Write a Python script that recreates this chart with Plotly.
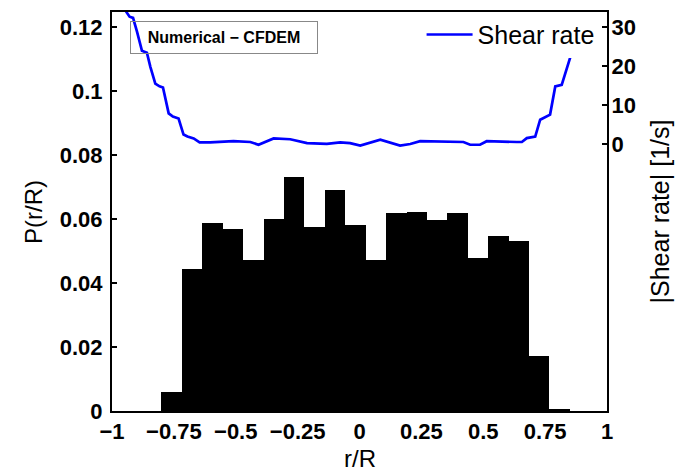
import plotly.graph_objects as go

# Histogram of radial particle positions (bin centres, bin width, probability)
bin_centers = [-0.7588, -0.6763, -0.5938, -0.5113, -0.4288, -0.3463, -0.2638, -0.1813,
               -0.0988, -0.0163, 0.0663, 0.1488, 0.2313, 0.3138, 0.3963, 0.4788,
               0.5613, 0.6438, 0.7263, 0.8088]
bin_width = 0.0825
prob = [0.0060, 0.0444, 0.0587, 0.0568, 0.0472, 0.0601, 0.0731, 0.0576,
        0.0692, 0.0581, 0.0472, 0.0620, 0.0622, 0.0597, 0.0618, 0.0478,
        0.0548, 0.0531, 0.0171, 0.0007]

# Shear rate profile
shear_r = [-0.955, -0.942, -0.929, -0.915, -0.899, -0.879, -0.859, -0.845, -0.825, -0.808,
           -0.794, -0.785, -0.771, -0.754, -0.731, -0.711, -0.695, -0.670, -0.646, -0.603,
           -0.550, -0.509, -0.441, -0.408, -0.347, -0.280, -0.212, -0.132, -0.078, -0.038,
           0.003, 0.084, 0.164, 0.205, 0.245, 0.330, 0.420, 0.447, 0.487, 0.514,
           0.580, 0.636, 0.656, 0.676, 0.710, 0.730, 0.770, 0.791, 0.817, 0.851,
           0.875, 0.900, 0.916, 0.932, 0.950]
shear_rate = [36.5, 33.8, 32.6, 32.3, 28.8, 23.9, 23.4, 19.8, 15.5, 14.8,
              14.5, 11.7, 7.9, 7.1, 6.6, 2.5, 2.0, 1.5, 0.5, 0.5,
              0.6, 0.8, 0.6, -0.1, 1.5, 1.3, 0.3, 0.1, 0.5, 0.3,
              -0.3, 1.2, -0.3, 0.1, 0.8, 0.7, 0.6, -0.1, -0.1, 0.8,
              0.6, 0.6, 0.6, 1.6, 2.0, 6.3, 7.6, 14.8, 15.2, 22.4,
              27.0, 31.5, 32.6, 32.6, 36.5]

x_ticks = [-1, -0.75, -0.5, -0.25, 0, 0.25, 0.5, 0.75, 1]
x_tick_text = ["\u22121", "\u22120.75", "\u22120.5", "\u22120.25", "0", "0.25", "0.5", "0.75", "1"]
y_ticks = [0, 0.02, 0.04, 0.06, 0.08, 0.1, 0.12]
y_tick_text = ["0", "0.02", "0.04", "0.06", "0.08", "0.1", "0.12"]
y2_ticks = [0, 10, 20, 30]
y2_tick_text = ["0", "10", "20", "30"]

FONT = "Liberation Sans, Arial, sans-serif"
tickfont = dict(family=FONT, size=22, color="black", weight="bold")

fig = go.Figure()
fig.add_trace(go.Bar(x=bin_centers, y=prob, width=[bin_width] * len(prob),
                     marker=dict(color="black", line=dict(width=0)),
                     showlegend=False, yaxis="y"))
fig.add_trace(go.Scatter(x=shear_r, y=shear_rate, mode="lines", name="Shear rate",
                         line=dict(color="#0000FF", width=2.7), yaxis="y2"))

fig.update_layout(
    width=680, height=471,
    margin=dict(l=112, r=73, t=10, b=60),
    paper_bgcolor="white", plot_bgcolor="white",
    bargap=0,
    xaxis=dict(range=[-1, 1], tickvals=x_ticks, ticktext=x_tick_text,
               ticks="inside", ticklen=5, tickwidth=1.5, tickcolor="black",
               showline=True, linecolor="black", linewidth=2, mirror=True,
               showgrid=False, zeroline=False, tickfont=tickfont,
               ticklabelstandoff=0),
    yaxis=dict(range=[0, 0.1247], tickvals=y_ticks, ticktext=y_tick_text,
               ticks="inside", ticklen=5, tickwidth=1.5, tickcolor="black",
               showline=True, linecolor="black", linewidth=2,
               showgrid=False, zeroline=False, tickfont=tickfont,
               ticklabelstandoff=3),
    yaxis2=dict(range=[-68.1, 33.8], tickvals=y2_ticks, ticktext=y2_tick_text,
                overlaying="y", side="right",
                ticks="inside", ticklen=5, tickwidth=1.5, tickcolor="black",
                showline=True, linecolor="black", linewidth=2,
                showgrid=False, zeroline=False, tickfont=tickfont,
                ticklabelstandoff=-2),
    legend=dict(x=0.985, y=0.943, xanchor="right", yanchor="middle",
                bgcolor="white", borderwidth=0,
                font=dict(family=FONT, size=25, color="black"),
                itemwidth=46),
    annotations=[
        dict(text="Numerical \u2212 CFDEM", xref="paper", yref="paper",
             x=0.037, y=0.978, xanchor="left", yanchor="top", showarrow=False,
             font=dict(family=FONT, size=16, color="black", weight="bold"),
             bordercolor="#888888", borderwidth=1, borderpad=7,
             width=172, bgcolor="rgba(255,255,255,0)"),
        dict(text="P(r/R)", xref="paper", yref="paper", x=-0.1586, y=0.5,
             textangle=-90, showarrow=False, xanchor="center", yanchor="middle",
             font=dict(family=FONT, size=24, color="black")),
        dict(text="r/R", xref="paper", yref="paper", x=0.5, y=-0.1197,
             showarrow=False, xanchor="center", yanchor="middle",
             font=dict(family=FONT, size=24, color="black")),
        dict(text="|Shear rate| [1/s]", xref="paper", yref="paper", x=1.107, y=0.5,
             textangle=-90, showarrow=False, xanchor="center", yanchor="middle",
             font=dict(family=FONT, size=25, color="black")),
    ],
)

fig.write_html("out.html", config={"displayModeBar": False},
               post_script="document.body.style.margin='0';document.body.style.padding='0';")
